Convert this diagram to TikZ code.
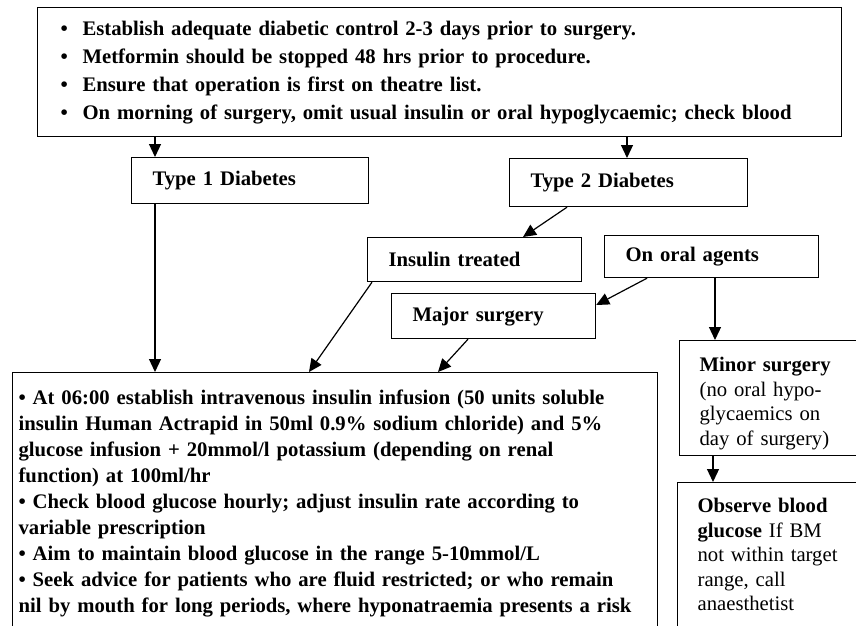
\documentclass[tikz,border=0pt]{standalone}
\usepackage{fontspec}
\setmainfont{Liberation Serif}
\usetikzlibrary{arrows.meta,calc}
\newcommand\topfont{\fontsize{20.7}{28}\selectfont\bfseries}
\newcommand\mainfont{\fontsize{20.7}{26}\selectfont\bfseries}
\newcommand\sidefont{\fontsize{20.7}{24.5}\selectfont\bfseries}
\tikzset{
box/.style={draw=black,line width=1.2pt,anchor=north west,align=left,inner xsep=21pt,inner ysep=0pt,font=\sidefont},
arr/.style={-{Triangle[length=13pt,width=12pt]},line width=1.2pt}}

\begin{document}
\begin{tikzpicture}[x=1pt,y=1pt]
\useasboundingbox (0,0) rectangle (856,-625);
\clip (0,0) rectangle (856,-625);
\fill[white] (0,0) rectangle (856,-625);
\node[box,font=\topfont,inner xsep=23pt,text width=758pt,minimum height=129pt] (top) at (37,-7) {\makebox[22pt][l]{\textbullet}Establish adequate diabetic control 2-3 days prior to surgery.\\\makebox[22pt][l]{\textbullet}Metformin should be stopped 48 hrs prior to procedure.\\\makebox[22pt][l]{\textbullet}Ensure that operation is first on theatre list.\\\makebox[22pt][l]{\textbullet}On morning of surgery, omit usual insulin or oral hypoglycaemic; check blood};
\node[box,text width=195pt,minimum height=46pt] (type1) at (131,-157) {Type 1 Diabetes};
\node[box,text width=196pt,minimum height=48pt] (type2) at (509,-158) {Type 2 Diabetes};
\node[box,text width=172pt,minimum height=44pt] (insulin) at (367,-237) {Insulin treated};
\node[box,text width=172pt,minimum height=42pt] (oral) at (604,-235) {On oral agents};
\node[box,text width=162pt,minimum height=45pt] (major) at (391,-293) {Major surgery};
\node[box,inner xsep=20pt,text width=180pt] (minor) at (679,-340) {\rule{0pt}{31pt}Minor surgery\\\mdseries (no oral hypo-\\glycaemics on\\day of surgery)\rule[-10.5pt]{0pt}{0pt}};
\node[box,inner xsep=20pt,text width=180pt] (observe) at (677,-482) {\rule{0pt}{30pt}Observe blood\\glucose \mdseries If BM\\not within target\\range, call\\anaesthetist\rule[-30pt]{0pt}{0pt}};
\node[box,font=\mainfont,inner xsep=6pt,text width=633pt] (main) at (12,-372) {\rule{0pt}{32pt}\textbullet\ At 06:00 establish intravenous insulin infusion (50 units soluble\\insulin Human Actrapid in 50ml 0.9\% sodium chloride) and 5\%\\glucose infusion + 20mmol/l potassium (depending on renal\\function) at 100ml/hr\\\textbullet\ Check blood glucose hourly; adjust insulin rate according to\\variable prescription\\\textbullet\ Aim to maintain blood glucose in the range 5-10mmol/L\\\textbullet\ Seek advice for patients who are fluid restricted; or who remain\\nil by mouth for long periods, where hyponatraemia presents a risk\rule[-30pt]{0pt}{0pt}};
\draw[arr] ($(top.south west)+(118,0)$) -- ($(type1.north west)+(24,0)$);
\draw[arr] ($(top.south west)+(590,0)$) -- ($(type2.north west)+(118,0)$);
\draw[arr] ($(type1.south west)+(24,0)$) -- ($(main.north west)+(143,0)$);
\draw[arr] ($(type2.south west)+(58,0)$) -- ($(insulin.north west)+(156,0)$);
\draw[arr] ($(insulin.south west)+(5,0)$) -- ($(main.north west)+(297,0)$);
\draw[arr] ($(oral.south west)+(43,0)$) -- ($(major.north east)+(0,-12)$);
\draw[arr] ($(major.south west)+(77,0)$) -- ($(main.north west)+(426,0)$);
\draw[arr] ($(oral.south west)+(111,0)$) -- ($(minor.north west)+(36,0)$);
\draw[arr] ($(minor.south west)+(34,0)$) -- ($(observe.north west)+(36,0)$);
\end{tikzpicture}
\end{document}
